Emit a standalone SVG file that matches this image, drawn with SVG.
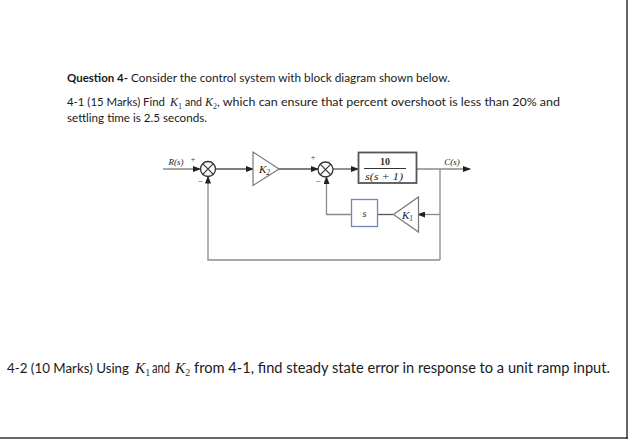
<svg xmlns="http://www.w3.org/2000/svg" width="628" height="439" viewBox="0 0 628 439">
<style>
.body{font-family:Lato,"Open Sans","Liberation Sans",sans-serif;fill:#1a1a1a}
.b{font-weight:bold}
.m{font-family:"Liberation Serif","DejaVu Serif",serif;font-style:italic;fill:#222}
.d{font-family:"Liberation Serif","DejaVu Serif",serif;fill:#333}
.ln{fill:none;stroke:#555;stroke-width:1.3}
.lg{fill:none;stroke:#8a8a8a;stroke-width:1.3}
.sum{fill:#fff;stroke:#333;stroke-width:1.3}
.tri{fill:#fff;stroke:#777;stroke-width:1.2}
</style>
<defs>
<marker id="ar" markerWidth="8" markerHeight="6" refX="7" refY="3" orient="auto" markerUnits="userSpaceOnUse">
<path d="M0,0 L8,3 L0,6 Z" fill="#222"/>
</marker>
</defs>
<rect x="0" y="0" width="628" height="439" fill="#fff"/>
<line x1="627" y1="0" x2="627" y2="439" stroke="#333" stroke-width="1.5"/>
<line x1="0" y1="438" x2="628" y2="438" stroke="#333" stroke-width="1.5"/>

<g id="question-text">
<text class="body" y="82" font-size="11"><tspan class="b" x="67" textLength="61" lengthAdjust="spacingAndGlyphs">Question 4-</tspan><tspan x="131" textLength="319" lengthAdjust="spacingAndGlyphs">Consider the control system with block diagram shown below.</tspan></text>
<text class="body" y="106" font-size="11"><tspan x="67" textLength="98" lengthAdjust="spacingAndGlyphs">4-1 (15 Marks) Find</tspan><tspan class="m" x="170" font-size="12">K</tspan><tspan class="d" font-size="8" dy="2.5">1</tspan><tspan x="185" dy="-2.5" textLength="17" lengthAdjust="spacingAndGlyphs">and</tspan><tspan class="m" x="205" font-size="12">K</tspan><tspan class="d" font-size="8" dy="2.5">2</tspan><tspan x="217" dy="-2.5" textLength="343" lengthAdjust="spacingAndGlyphs">, which can ensure that percent overshoot is less than 20% and</tspan></text>
<text class="body" x="67" y="122" font-size="11" textLength="140" lengthAdjust="spacingAndGlyphs">settling time is 2.5 seconds.</text>
<text class="body" y="373" font-size="14.5"><tspan x="7" font-size="13.5" textLength="122" lengthAdjust="spacingAndGlyphs">4-2 (10 Marks) Using</tspan><tspan class="m" x="135" font-size="15.5">K</tspan><tspan class="d" font-size="10" dy="3">1</tspan><tspan x="152" dy="-3" textLength="18" lengthAdjust="spacingAndGlyphs">and</tspan><tspan class="m" x="175" font-size="15.5">K</tspan><tspan class="d" font-size="10" dy="3">2</tspan><tspan x="194" dy="-3" textLength="416" lengthAdjust="spacingAndGlyphs">from 4-1, find steady state error in response to a unit ramp input.</tspan></text>
</g>

<g id="connectors">
<line class="lg" x1="163" y1="169" x2="200" y2="169" marker-end="url(#ar)"/>
<line class="ln" x1="215.5" y1="169" x2="253" y2="169" marker-end="url(#ar)"/>
<line class="ln" x1="279" y1="169" x2="318" y2="169" marker-end="url(#ar)"/>
<line class="ln" x1="333" y1="169" x2="358" y2="169" marker-end="url(#ar)"/>
<line class="lg" x1="417" y1="169" x2="470" y2="169" marker-end="url(#ar)"/>
<line class="lg" x1="440" y1="169" x2="440" y2="260"/>
<line class="lg" x1="440" y1="214.5" x2="418" y2="214.5" marker-end="url(#ar)"/>
<line class="ln" x1="393" y1="214.5" x2="377.5" y2="214.5"/>
<polyline class="lg" points="351.5,214.5 326.5,214.5 326.5,177" marker-end="url(#ar)"/>
<polyline class="lg" points="440,260 208,260 208,176.5" marker-end="url(#ar)"/>
</g>

<g id="sum1">
<circle class="sum" cx="208" cy="169" r="7.5"/>
<path d="M202.7,163.7 L213.3,174.3 M213.3,163.7 L202.7,174.3" stroke="#333" stroke-width="1.2"/>
<text class="d" x="193" y="162" font-size="8" text-anchor="middle">+</text>
<text class="d" x="200" y="184" font-size="9" text-anchor="middle">−</text>
<text class="m" x="176" y="165" font-size="9" text-anchor="middle">R(s)</text>
</g>

<g id="K2">
<polygon class="tri" points="253,152 253,185.5 279,169"/>
<text class="m" x="259" y="173" font-size="11">K<tspan class="d" font-size="7.5" dy="2">2</tspan></text>
</g>

<g id="sum2">
<circle class="sum" cx="325.5" cy="169.5" r="7.5"/>
<path d="M320.2,164.2 L330.8,174.8 M330.8,164.2 L320.2,174.8" stroke="#333" stroke-width="1.2"/>
<text class="d" x="313" y="160" font-size="8" text-anchor="middle">+</text>
<text class="d" x="318" y="184" font-size="9" text-anchor="middle">−</text>
</g>

<g id="plant">
<rect x="358.5" y="152.5" width="58" height="30.5" fill="#fff" stroke="#555" stroke-width="1.8"/>
<text class="d" x="385" y="165" font-size="10" font-weight="bold" text-anchor="middle">10</text>
<line x1="364" y1="168.5" x2="406" y2="168.5" stroke="#333" stroke-width="1"/>
<text class="m" x="365" y="180" font-size="11" textLength="38" lengthAdjust="spacingAndGlyphs">s(s + 1)</text>
</g>

<g id="output">
<text class="m" x="452" y="165" font-size="9" text-anchor="middle">C(s)</text>
</g>

<g id="K1">
<polygon class="tri" points="418.5,197 418.5,232 393.5,214.5"/>
<text class="m" x="402" y="218.5" font-size="11">K<tspan class="d" font-size="7.5" dy="2">1</tspan></text>
</g>

<g id="s-block">
<rect x="351.5" y="199.5" width="26" height="27" fill="#fff" stroke="#7088b8" stroke-width="1.3"/>
<text class="m" x="364.5" y="216.5" font-size="10" text-anchor="middle">s</text>
</g>
</svg>
